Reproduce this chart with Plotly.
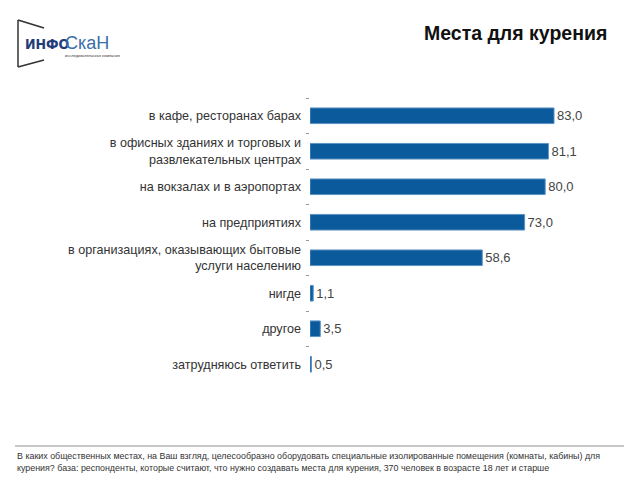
import plotly.graph_objects as go

categories = [
    "в кафе, ресторанах барах",
    "в офисных зданиях и торговых и<br>развлекательных центрах",
    "на вокзалах и в аэропортах",
    "на предприятиях",
    "в организациях, оказывающих бытовые<br>услуги населению",
    "нигде",
    "другое",
    "затрудняюсь ответить",
]
values = [83.0, 81.1, 80.0, 73.0, 58.6, 1.1, 3.5, 0.5]
value_labels = ["83,0", "81,1", "80,0", "73,0", "58,6", "1,1", "3,5", "0,5"]

title_text = "Места для курения"
footnote = ("В каких общественных местах, на Ваш взгляд, целесообразно оборудовать специальные изолированные помещения (комнаты, кабины) для<br>"
            "курения? база: респонденты, которые считают, что нужно создавать места для курения, 370 человек в возрасте 18 лет и старше")

fig = go.Figure(go.Bar(
    x=values, y=categories, orientation="h",
    marker=dict(color="#0a5a9c", line=dict(color="#5d93c4", width=1)),
    width=0.44,
    text=value_labels, textposition="outside",
    textfont=dict(family="Liberation Sans, Arial", size=13, color="#444444"),
    cliponaxis=False,
))

fig.update_layout(
    width=640, height=480,
    margin=dict(l=310, r=36, t=98, b=98),
    plot_bgcolor="white", paper_bgcolor="white",
    showlegend=False,
    font=dict(family="Liberation Sans, Arial", size=12, color="#333333"),
    xaxis=dict(range=[0, 100], visible=False),
    yaxis=dict(autorange="reversed", ticks="outside", tickson="boundaries",
               ticklen=3, tickcolor="#999999", showline=False, showgrid=False,
               tickfont=dict(size=12.6, color="#333333"), ticklabelstandoff=8),
    bargap=0.5,
)

def px(xp):
    return (xp - 310) / 294

def py(yp):
    return 1 - (yp - 98) / 284

# title
fig.add_annotation(text="<b>" + title_text + "</b>", xref="paper", yref="paper",
                   x=px(609), y=py(33), xanchor="right", yanchor="middle",
                   showarrow=False, font=dict(size=19.5, color="#111111", family="Liberation Sans, Arial"))

# footnote separator and text
fig.add_shape(type="line", xref="paper", yref="paper",
              x0=px(15), x1=px(624), y0=py(446), y1=py(446),
              line=dict(color="#c8c8c8", width=2))
fig.add_annotation(text=footnote, xref="paper", yref="paper",
                   x=px(15), y=py(449), xanchor="left", yanchor="top",
                   align="left", showarrow=False,
                   font=dict(size=8.9, color="#333333", family="Liberation Sans, Arial"))

# logo approximation
for (x0, y0, x1, y1) in [(18, 20, 18, 67), (18, 20, 44, 28), (18, 67, 44, 60)]:
    fig.add_shape(type="line", xref="paper", yref="paper",
                  x0=px(x0), y0=py(y0), x1=px(x1), y1=py(y1),
                  line=dict(color="#333333", width=1.5))
fig.add_annotation(text="<b>ИНФО</b>", xref="paper", yref="paper", x=px(23), y=py(44),
                   xanchor="left", yanchor="middle", showarrow=False,
                   font=dict(size=14, color="#1f3d7a", family="Liberation Sans Narrow, DejaVu Sans Condensed"))
fig.add_annotation(text="СкаН", xref="paper", yref="paper", x=px(63), y=py(43),
                   xanchor="left", yanchor="middle", showarrow=False,
                   font=dict(size=18, color="#3a6ea8", family="Liberation Sans, Arial"))
fig.add_annotation(text="исследовательская компания", xref="paper", yref="paper", x=px(63), y=py(56),
                   xanchor="left", yanchor="middle", showarrow=False,
                   font=dict(size=4, color="#333333", family="Liberation Sans, Arial"))

fig.write_html("out.html", config={"displayModeBar": False},
               post_script="document.body.style.margin='0px';")
